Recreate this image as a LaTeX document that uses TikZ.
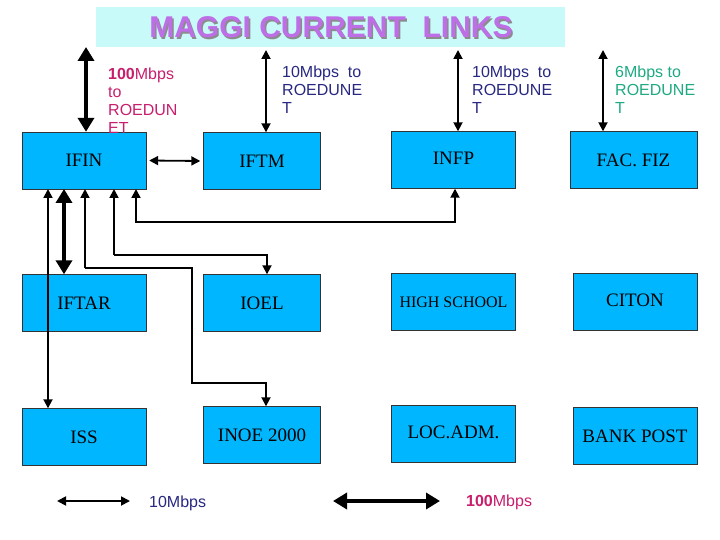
\documentclass[tikz,border=0pt]{standalone}
\usepackage{fontspec}
\setmainfont{Liberation Serif}
\newfontfamily\sans{Liberation Sans}
\usetikzlibrary{arrows.meta}
\definecolor{boxc}{RGB}{0,183,255}
\definecolor{navy}{RGB}{40,40,130}
\definecolor{mag}{RGB}{200,30,110}
\definecolor{teal2}{RGB}{30,170,130}
\definecolor{titbg}{RGB}{200,250,250}
\definecolor{titc}{RGB}{190,110,230}
\begin{document}
\begin{tikzpicture}[x=1pt,y=-1pt,
 box/.style={draw=black!80,fill=boxc,minimum width=124pt,minimum height=57pt,inner sep=0pt,font=\fontsize{19}{19}\selectfont},
 thin/.style={line width=1.8pt,{Triangle[length=9pt,width=9pt]}-{Triangle[length=9pt,width=9pt]}},
 thick/.style={line width=4pt,{Triangle[length=14pt,width=16pt]}-{Triangle[length=14pt,width=16pt]}},
 one/.style={line width=1.8pt,-{Triangle[length=9pt,width=9pt]}},
 lab/.style={font=\sans\fontsize{16}{18}\selectfont,align=left,anchor=north west,inner sep=0pt}]
\useasboundingbox (0,0) rectangle (720,540);
\fill[white] (0,0) rectangle (720,540);
\node[fill=titbg,minimum width=469pt,minimum height=40pt,anchor=north west] (title) at (96,7) {};
\node[text=black!45] at (332.5,29) {\sans\bfseries\fontsize{30}{30}\selectfont MAGGI CURRENT\ \ LINKS};
\node[text=titc] (tt) at (331,27.5) {\sans\bfseries\fontsize{30}{30}\selectfont MAGGI CURRENT\ \ LINKS};
% boxes
\node[box] (ifin) at (84,160.5) {IFIN};
\node[box,minimum width=117pt] (iftm) at (262,161) {IFTM};
\node[box] (infp) at (453.5,160) {\raisebox{3pt}{INFP}};
\node[box,minimum width=127pt] (fac) at (633.5,160) {FAC. FIZ};
\node[box] (iftar) at (84,303) {IFTAR};
\node[box,minimum width=117pt] (ioel) at (262,303) {IOEL};
\node[box,font=\fontsize{16}{16}\selectfont] (hs) at (453.5,302) {HIGH SCHOOL};
\node[box,minimum width=124pt] (citon) at (635,302) {\raisebox{3pt}{CITON}};
\node[box] (iss) at (84,437) {ISS};
\node[box,minimum width=117pt] (inoe) at (262,435) {INOE 2000};
\node[box] (loc) at (453.5,434) {\raisebox{3pt}{LOC.ADM.}};
\node[box,minimum width=124pt] (bank) at (635,436) {BANK POST};
% top uplinks
\coordinate (u1) at (86,47);
\coordinate (u2) at (266,50);
\coordinate (u3) at (458,50);
\coordinate (u4) at (603,50);
\draw[thick] (u1) -- (u1 |- ifin.north);
\draw[thin] (u2) -- (u2 |- iftm.north);
\draw[thin] (u3) -- (u3 |- infp.north);
\draw[thin] (u4) -- (u4 |- fac.north);
\node[lab,text=mag] (l1) at (108,68) {\textbf{100}Mbps\\to\\ROEDUN\\ET};
\node[lab,text=navy] (l2) at (282,66) {10Mbps\ \ to\\ROEDUNE\\T};
\node[lab,text=navy] (l3) at (472,66) {10Mbps\ \ to\\ROEDUNE\\T};
\node[lab,text=teal2] (l4) at (615,66) {6Mbps to\\ROEDUNE\\T};
% IFIN-IFTM
\draw[thin] ([xshift=3pt]ifin.east) -- ([xshift=-3pt]iftm.west);
% vertical links
\draw[thin] (48,189) -- (48,0 |- iss.north);
\draw[thick] (64,189) -- (64,0 |- iftar.north);
\draw[one] (85,268) -- (85,189);
\draw[one] (85,268) -- (192,268) -- (192,383) -- (266,383) -- (266,0 |- inoe.north);
\draw[one] (114,255) -- (114,189);
\draw[one] (114,255) -- (267,255) -- (267,0 |- ioel.north);
\draw[thin] (136,189) -- (136,222) -- (455,222) -- (455,0 |- infp.south);
% legend
\coordinate (a1) at (57,501); \coordinate (a2) at (130,501);
\coordinate (b1) at (333,501); \coordinate (b2) at (440,501);
\draw[thin] (a1) -- (a2);
\draw[thick] (b1) -- (b2);
\node[lab,anchor=west,text=navy] (t1) at (149,503) {10Mbps};
\node[lab,anchor=west,text=mag] (t2) at (466,502) {\textbf{100}Mbps};
\end{tikzpicture}
\end{document}
